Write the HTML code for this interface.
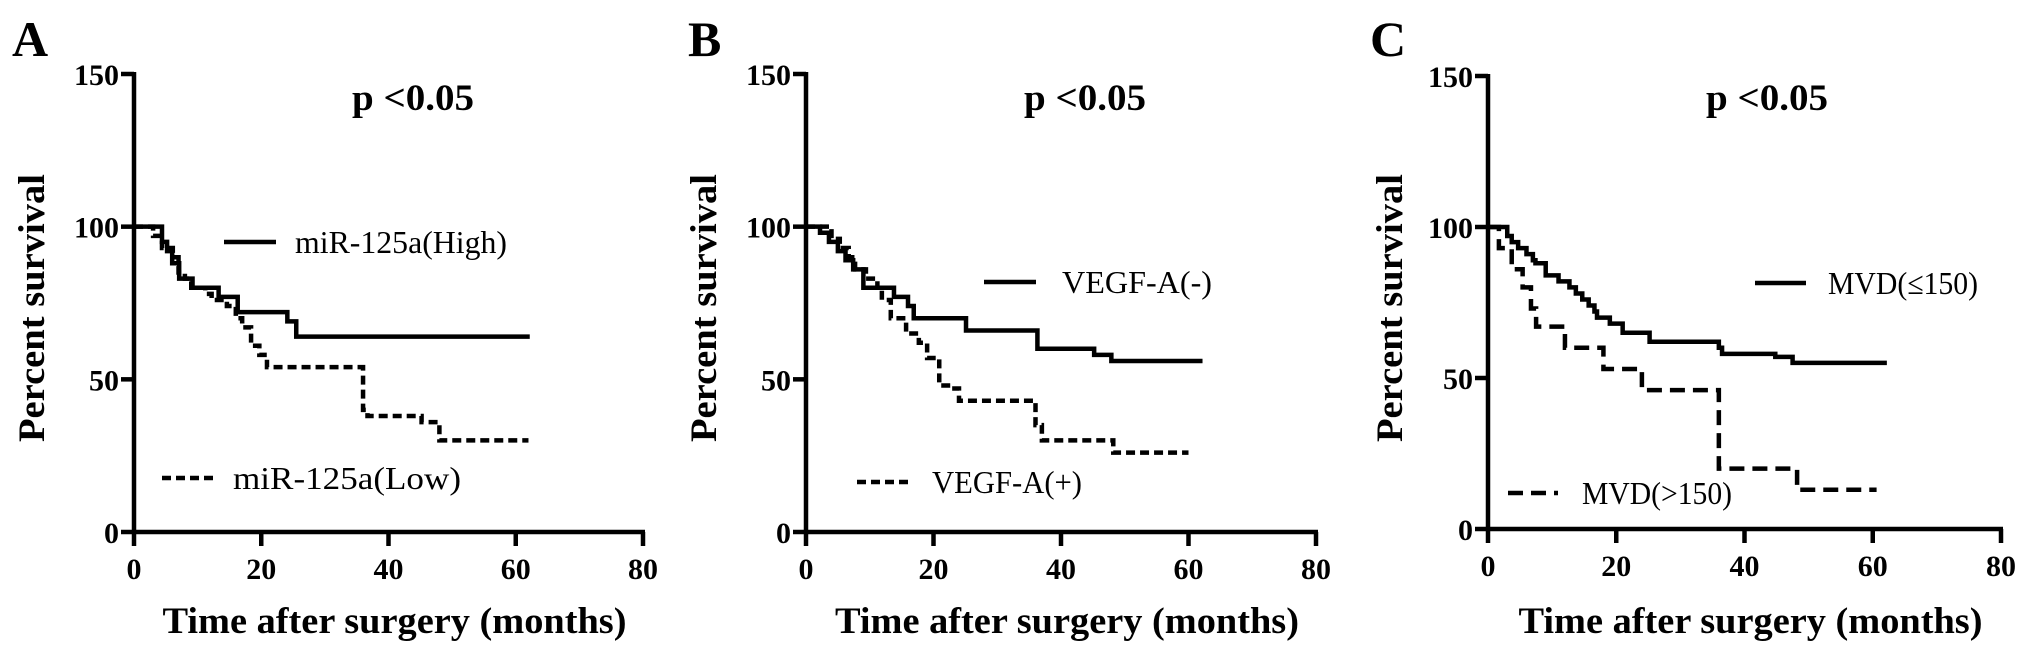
<!DOCTYPE html>
<html><head><meta charset="utf-8">
<style>
html,body{margin:0;padding:0;background:#fff;}
svg{display:block;font-family:"Liberation Serif",serif;}
</style></head>
<body>
<svg id="chart" width="2031" height="656" viewBox="0 0 2031 656" xmlns="http://www.w3.org/2000/svg"></svg>
<script>
const xTicks = [0, 20, 40, 60, 80];
const yTicks = [0, 50, 100, 150];
const panelLetters = ["A", "B", "C"];
const pLabels = ["p <0.05", "p <0.05", "p <0.05"];

// Panel A
const aHighT = [0, 4.4, 5.2, 6.0, 7.1, 9.2, 13.3, 16.3, 24.1, 25.5, 62.2];
const aHighS = [100, 95, 92, 88, 83, 80, 77, 72, 69, 64, 64];
const aLowT  = [0, 3, 4.4, 6.1, 7, 8, 9, 11.2, 12.2, 14.6, 16, 17, 18.4, 19.7, 20.9, 36, 36.7, 45.2, 48, 62];
const aLowS  = [100, 97, 93, 90, 85, 83, 80, 78, 76, 74, 70, 67, 61, 58, 54, 40, 38, 36, 30, 30];
// Panel B
const bNegT = [0, 2.2, 3.6, 5, 6.2, 7.4, 9, 13.8, 16, 16.9, 25.1, 36.3, 45.2, 47.9, 62.2];
const bNegS = [100, 98, 95, 92, 89, 86, 80, 77, 74, 70, 66, 60, 58, 56, 56];
const bPosT = [0, 4, 5.3, 6.7, 7.7, 9.4, 11.2, 11.9, 13.3, 15.7, 17.7, 19, 20.9, 22.7, 24, 36, 37, 48.2, 60];
const bPosS = [100, 96, 93, 90, 86, 83, 80, 76, 70, 65, 62, 57, 48, 47, 43, 35, 30, 26, 26];
// Panel C
const cLowT = [0, 3, 3.7, 4.7, 6, 7, 7.4, 9, 11, 12.7, 13.7, 14.7, 15.7, 16.6, 17, 19, 21, 25.2, 36, 36.5, 44.8, 47.5, 62.2];
const cLowS = [100, 97, 95, 93, 91, 89, 88, 84, 82, 80, 78, 76, 74, 72, 70, 68, 65, 62, 60, 58, 57, 55, 55];
const cHighT = [0, 1.7, 3.7, 5.4, 6.7, 7.5, 12, 18, 24, 36, 48.2, 60.6];
const cHighS = [100, 93, 86, 80, 73, 67, 60, 53, 46, 20, 13, 13];

const panels = [
  {x0:134, x80:643, y0:532, y150:74, letterX:12, ytX:44, series:[
    {t:aHighT, s:aHighS, dash:null, name:"mir125a-high-curve"},
    {t:aLowT, s:aLowS, dash:"9 5", name:"mir125a-low-curve"}],
   legend:[{x1:224,x2:276,y:242,tx:295,ty:253,label:"miR-125a(High)",dash:null,len:212},
           {x1:162,x2:214,y:478,tx:233,ty:489,label:"miR-125a(Low)",dash:"9 5",len:228}]},
  {x0:806, x80:1316, y0:532, y150:74, letterX:688, ytX:716, series:[
    {t:bNegT, s:bNegS, dash:null, name:"vegfa-negative-curve"},
    {t:bPosT, s:bPosS, dash:"9 5", name:"vegfa-positive-curve"}],
   legend:[{x1:984,x2:1036,y:282,tx:1062,ty:293,label:"VEGF-A(-)",dash:null,len:150},
           {x1:857,x2:909,y:482,tx:932,ty:493,label:"VEGF-A(+)",dash:"9 5",len:150}]},
  {x0:1488, x80:2001, y0:529, y150:76, letterX:1370, ytX:1402, series:[
    {t:cLowT, s:cLowS, dash:null, name:"mvd-low-curve"},
    {t:cHighT, s:cHighS, dash:"15 8", name:"mvd-high-curve"}],
   legend:[{x1:1755,x2:1806,y:283,tx:1828,ty:294,label:"MVD(\u2264150)",dash:null,len:150},
           {x1:1508,x2:1558,y:493,tx:1582,ty:504,label:"MVD(>150)",dash:"15 8",len:150}]}
];

const svg = document.getElementById('chart');
const NS = "http://www.w3.org/2000/svg";
function mk(tag, attrs, parent){
  const e = document.createElementNS(NS, tag);
  for (const k in attrs) e.setAttribute(k, attrs[k]);
  (parent||svg).appendChild(e);
  return e;
}

panels.forEach((p, i) => {
  const xs = v => p.x0 + (p.x80 - p.x0) * v / 80;
  const ys = v => p.y0 - (p.y0 - p.y150) * v / 150;
  const g = mk('g', {});
  
  

  const letter = mk('text', {x:p.letterX, y:56, 'font-size':50, 'font-weight':'bold'}, g);
  letter.textContent = panelLetters[i];
  
  

  const yAxis = mk('line', {x1:xs(0), y1:ys(0)+2, x2:xs(0), y2:ys(150)-2, stroke:'#000', 'stroke-width':4.5}, g);
  
  
  const xAxis = mk('line', {x1:xs(0)-2, y1:ys(0), x2:xs(80)+2, y2:ys(0), stroke:'#000', 'stroke-width':4.5}, g);
  
  

  yTicks.forEach(v => {
    const tk = mk('line', {x1:xs(0)-13, y1:ys(v), x2:xs(0), y2:ys(v), stroke:'#000', 'stroke-width':4.5}, g);
    
    
    const tl = mk('text', {x:xs(0)-15, y:ys(v)+11, 'font-size':30, 'font-weight':'bold', 'text-anchor':'end'}, g);
    tl.textContent = v;
    
    
  });
  xTicks.forEach(v => {
    const tk = mk('line', {x1:xs(v), y1:ys(0), x2:xs(v), y2:ys(0)+14, stroke:'#000', 'stroke-width':4.5}, g);
    
    
    const tl = mk('text', {x:xs(v), y:ys(0)+47, 'font-size':30, 'font-weight':'bold', 'text-anchor':'middle'}, g);
    tl.textContent = v;
    
    
  });

  const xt = mk('text', {x:(xs(0)+xs(80))/2+6, y:633, 'font-size':37, 'font-weight':'bold', 'text-anchor':'middle', textLength:464, lengthAdjust:'spacingAndGlyphs'}, g);
  xt.textContent = 'Time after surgery (months)';
  
  
  const cy = 308;
  const yt = mk('text', {x:p.ytX, y:cy, 'font-size':37, 'font-weight':'bold', 'text-anchor':'middle', transform:`rotate(-90 ${p.ytX} ${cy})`, textLength:268, lengthAdjust:'spacingAndGlyphs'}, g);
  yt.textContent = 'Percent survival';
  
  

  const pl = mk('text', {x:xs(0)+218, y:110, 'font-size':37, 'font-weight':'bold', textLength:122, lengthAdjust:'spacingAndGlyphs'}, g);
  pl.textContent = pLabels[i];
  
  

  p.series.forEach(sr => {
    let d = `M${xs(sr.t[0])},${ys(sr.s[0])}`;
    for (let k = 1; k < sr.t.length; k++) {
      d += ` H${xs(sr.t[k])} V${ys(sr.s[k])}`;
    }
    const attrs = {d:d, fill:'none', stroke:'#000', 'stroke-width':4.5, 'stroke-linejoin':'miter'};
    if (sr.dash) attrs['stroke-dasharray'] = sr.dash;
    const path = mk('path', attrs, g);
    
    
  });

  p.legend.forEach(l => {
    const la = {x1:l.x1, y1:l.y, x2:l.x2, y2:l.y, stroke:'#000', 'stroke-width':4.5};
    if (l.dash) la['stroke-dasharray'] = l.dash;
    const ln = mk('line', la, g);
    
    
    const lt = mk('text', {x:l.tx, y:l.ty, 'font-size':32, textLength:l.len, lengthAdjust:'spacingAndGlyphs'}, g);
    lt.textContent = l.label;
    
    
  });
});
</script>
</body></html>
